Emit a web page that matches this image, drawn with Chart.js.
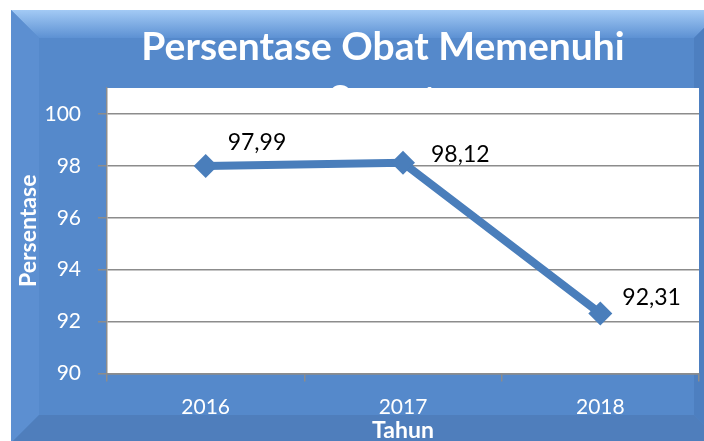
<!DOCTYPE html>
<html>
<head>
<meta charset="utf-8">
<script src="https://cdn.jsdelivr.net/npm/chart.js@4/dist/chart.umd.min.js"></script>
<style>
  body { margin: 0; background: #fff; }
  #wrap { width: 704px; height: 441px; }
</style>
</head>
<body>
<div id="wrap"><canvas id="chart"></canvas></div>
<script>
const years = ['2016', '2017', '2018'];
const persentase = [97.99, 98.12, 92.31];
const yTicks = [90, 92, 94, 96, 98, 100];
const titleLines = ['Persentase Obat Memenuhi', 'Syarat'];

const blue = '#4A7EBB';
const gridGray = '#8C8C8C';

// bevelled blue frame, title, then the white plot box on top of it
const backdrop = {
  id: 'backdrop',
  beforeDraw(chart) {
    const ctx = chart.ctx;
    const a = chart.chartArea;
    const L = 11, T = 10, R = 722, B = 443, bw = 28;
    ctx.save();
    ctx.fillStyle = '#5589CB';
    ctx.fillRect(L, T, R - L, B - T);

    const g = ctx.createLinearGradient(0, T, 0, T + bw);
    g.addColorStop(0, '#A3CAF5');
    g.addColorStop(1, '#5D91D3');
    ctx.fillStyle = g;
    ctx.beginPath();
    ctx.moveTo(L, T); ctx.lineTo(R, T); ctx.lineTo(R - bw, T + bw); ctx.lineTo(L + bw, T + bw);
    ctx.closePath(); ctx.fill();

    ctx.fillStyle = '#5C8FD1';
    ctx.beginPath();
    ctx.moveTo(L, T); ctx.lineTo(L + bw, T + bw); ctx.lineTo(L + bw, B - bw); ctx.lineTo(L, B);
    ctx.closePath(); ctx.fill();

    ctx.fillStyle = '#4D7FC0';
    ctx.beginPath();
    ctx.moveTo(R, T); ctx.lineTo(R - bw, T + bw); ctx.lineTo(R - bw, B - bw); ctx.lineTo(R, B);
    ctx.closePath(); ctx.fill();

    ctx.fillStyle = '#4F7EBC';
    ctx.beginPath();
    ctx.moveTo(L, B); ctx.lineTo(L + bw, B - bw); ctx.lineTo(R - bw, B - bw); ctx.lineTo(R, B);
    ctx.closePath(); ctx.fill();

    ctx.fillStyle = '#fff';
    ctx.font = 'bold 39px Lato';
    ctx.textAlign = 'center';
    ctx.textBaseline = 'alphabetic';
    ctx.fillText(titleLines[0], 383, 60);
    ctx.fillText(titleLines[1], 383, 113);

    ctx.fillRect(a.left, a.top, a.right - a.left, a.bottom - a.top);
    ctx.restore();
  }
};

const pointLabels = {
  id: 'pointLabels',
  afterDatasetsDraw(chart) {
    const ctx = chart.ctx;
    const dx = [22, 28, 22], dy = [-24, -8, -16];
    ctx.save();
    ctx.font = '23px Lato';
    ctx.fillStyle = '#000';
    ctx.textAlign = 'left';
    ctx.textBaseline = 'middle';
    chart.getDatasetMeta(0).data.forEach((pt, i) => {
      ctx.fillText(persentase[i].toFixed(2).replace('.', ','), pt.x + dx[i], pt.y + dy[i]);
    });
    ctx.restore();
  }
};

new Chart(document.getElementById('chart'), {
  type: 'line',
  data: {
    labels: years,
    datasets: [{
      label: 'Persentase',
      data: persentase,
      borderColor: blue,
      borderWidth: 8,
      backgroundColor: blue,
      pointStyle: 'rectRot',
      pointRadius: 12,
      pointBorderWidth: 0,
      tension: 0
    }]
  },
  options: {
    responsive: true,
    maintainAspectRatio: false,
    animation: false,
    layout: { autoPadding: false, padding: { top: 88, right: 5, left: 0, bottom: 0 } },
    plugins: {
      legend: { display: false },
      title: { display: false },
      tooltip: { enabled: false }
    },
    scales: {
      x: {
        offset: true,
        grid: { offset: true, drawOnChartArea: false, tickLength: 8, color: gridGray, lineWidth: 1.5 },
        border: { color: gridGray, width: 1.5 },
        ticks: { color: '#fff', font: { family: 'Lato', size: 21 }, padding: 13 },
        title: {
          display: true, text: 'Tahun', color: '#fff',
          font: { family: 'Lato', size: 23, weight: 'bold' },
          padding: { top: 0, bottom: -3 }
        },
        afterFit(s) {
          s.height = 67.5;
          s.paddingLeft = 0;
          s.paddingRight = 0;
        }
      },
      y: {
        min: 90,
        max: 101,
        afterBuildTicks(s) { s.ticks = yTicks.map(v => ({ value: v })); },
        grid: { tickLength: 9, color: gridGray, lineWidth: 1.5 },
        border: { color: gridGray, width: 1.5 },
        ticks: { color: '#fff', font: { family: 'Lato', size: 21 }, padding: 17 },
        title: {
          display: true, text: 'Persentase', color: '#fff',
          font: { family: 'Lato', size: 23, weight: 'bold' },
          padding: { top: 15, bottom: 0 }
        },
        afterFit(s) {
          s.width = 107;
          s.paddingTop = 0;
          s.paddingBottom = 0;
        }
      }
    }
  },
  plugins: [backdrop, pointLabels]
});
</script>
</body>
</html>
